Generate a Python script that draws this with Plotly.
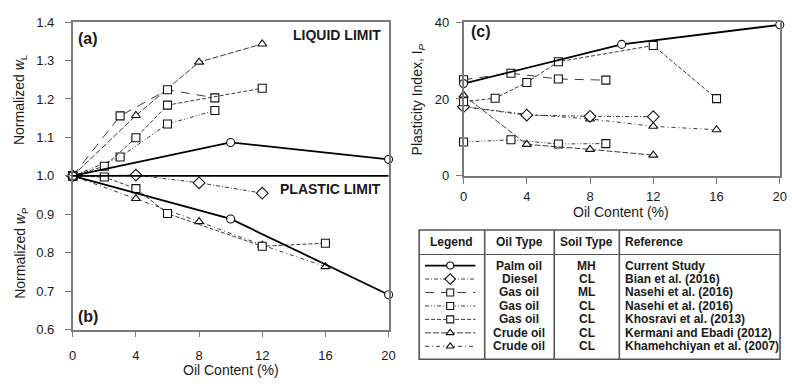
import plotly.graph_objects as go

W, H = 792, 387

# ---- data ---------------------------------------------------------------
# Palm oil (current study)
palm_oil_ll = [0, 10, 20]
palm_ll = [1.0, 1.087, 1.043]
palm_oil_pl = [0, 10, 20]
palm_pl = [1.0, 0.888, 0.691]
palm_oil_pi = [0, 10, 20]
palm_pi = [24.0, 34.2, 39.3]

# Diesel, Bian et al. (2016)
bian_oil_pl = [0, 4, 8, 12]
bian_pl = [1.0, 1.002, 0.982, 0.955]
bian_oil_pi = [0, 4, 8, 12]
bian_pi = [18.0, 15.8, 15.5, 15.4]

# Gas oil ML, Nasehi et al. (2016)
nasehi_ml_oil = [0, 3, 6, 9]
nasehi_ml_ll = [1.0, 1.156, 1.224, 1.203]
nasehi_ml_pi = [25.0, 26.7, 25.2, 24.9]

# Gas oil CL, Nasehi et al. (2016)
nasehi_cl_oil = [0, 3, 6, 9]
nasehi_cl_ll = [1.0, 1.049, 1.135, 1.170]
nasehi_cl_pi = [8.8, 9.4, 8.3, 8.4]

# Gas oil CL, Khosravi et al. (2013)
khosravi_oil_ll = [0, 2, 4, 6, 12]
khosravi_ll = [1.0, 1.025, 1.099, 1.184, 1.228]
khosravi_oil_pl = [0, 2, 4, 6, 12, 16]
khosravi_pl = [1.0, 0.997, 0.967, 0.902, 0.817, 0.825]
khosravi_oil_pi = [0, 2, 4, 6, 12, 16]
khosravi_pi = [19.3, 20.2, 24.3, 29.7, 33.9, 20.1]

# Crude oil CL, Kermani and Ebadi (2012)
kermani_oil = [0, 4, 8, 12]
kermani_ll = [1.0, 1.157, 1.296, 1.343]
kermani_pi = [21.0, 8.2, 6.9, 5.4]

# Crude oil CL, Khamehchiyan et al. (2007)
khamehchiyan_oil = [0, 4, 8, 12, 16]
khamehchiyan_pl = [1.0, 0.941, 0.881, 0.820, 0.764]
khamehchiyan_pi = [18.0, 16.0, 14.8, 12.9, 12.0]

x_ticks = [0, 4, 8, 12, 16, 20]
norm_ticks = [0.6, 0.7, 0.8, 0.9, 1.0, 1.1, 1.2, 1.3, 1.4]
pi_ticks = [0, 20, 40]

# table rows: oil type, soil type, reference
oil_types = ["Palm oil", "Diesel", "Gas oil", "Gas oil", "Gas oil", "Crude oil", "Crude oil"]
soil_types = ["MH", "CL", "ML", "CL", "CL", "CL", "CL"]
references = ["Current Study", "Bian et al. (2016)", "Nasehi et al. (2016)", "Nasehi et al. (2016)",
              "Khosravi et al. (2013)", "Kermani and Ebadi (2012)", "Khamehchiyan et al. (2007)"]

# ---- styles -------------------------------------------------------------
INK = "#1a1a1a"
GREY_LINE = "#3a3a3a"
FONT = "Arial, Liberation Sans, sans-serif"

styles = {
    "palm":  dict(dash="solid", symbol="circle", width=1.8, color="#000000"),
    "bian":  dict(dash="4px,2px,1px,2px", symbol="diamond", width=1.0, color=GREY_LINE),
    "nml":   dict(dash="9px,7px", symbol="square", width=1.0, color=GREY_LINE),
    "ncl":   dict(dash="4px,2px,1px,2px,1px,2px", symbol="square", width=1.0, color=GREY_LINE),
    "khos":  dict(dash="4px,2px", symbol="square", width=1.0, color=GREY_LINE),
    "kerm":  dict(dash="6px,2px", symbol="triangle-up", width=1.0, color=GREY_LINE),
    "kham":  dict(dash="4px,3px,1px,3px", symbol="triangle-up", width=1.0, color=GREY_LINE),
}
row_keys = ["palm", "bian", "nml", "ncl", "khos", "kerm", "kham"]


def px(x):
    return x / W


def py(y):
    return 1 - y / H


fig = go.Figure()


def add_series(x, y, key, xa, ya, msize=8):
    s = styles[key]
    size = msize + (1 if s["symbol"] == "diamond" else 0)
    fig.add_trace(go.Scatter(
        x=x, y=y, mode="lines+markers", xaxis=xa, yaxis=ya, showlegend=False,
        cliponaxis=False,
        line=dict(color=s["color"], width=s["width"], dash=s["dash"]),
        marker=dict(symbol=s["symbol"], size=size, color="white",
                    line=dict(color="#111111", width=1.1)),
    ))


# panel (a)/(b): normalized limits
add_series(kermani_oil, kermani_ll, "kerm", "x", "y")
add_series(nasehi_ml_oil, nasehi_ml_ll, "nml", "x", "y")
add_series(nasehi_cl_oil, nasehi_cl_ll, "ncl", "x", "y")
add_series(khosravi_oil_ll, khosravi_ll, "khos", "x", "y")
add_series(khamehchiyan_oil, khamehchiyan_pl, "kham", "x", "y")
add_series(khosravi_oil_pl, khosravi_pl, "khos", "x", "y")
add_series(bian_oil_pl, bian_pl, "bian", "x", "y")
add_series(palm_oil_ll, palm_ll, "palm", "x", "y")
add_series(palm_oil_pl, palm_pl, "palm", "x", "y")

# panel (c): plasticity index
add_series(nasehi_cl_oil, nasehi_cl_pi, "ncl", "x2", "y2")
add_series(kermani_oil, kermani_pi, "kerm", "x2", "y2")
add_series(khamehchiyan_oil, khamehchiyan_pi, "kham", "x2", "y2")
add_series(bian_oil_pi, bian_pi, "bian", "x2", "y2")
add_series(khosravi_oil_pi, khosravi_pi, "khos", "x2", "y2")
add_series(nasehi_ml_oil, nasehi_ml_pi, "nml", "x2", "y2")
add_series(palm_oil_pi, palm_pi, "palm", "x2", "y2")

# ---- legend table (own pixel-scaled axis over the table area) -----------
TA_X0, TA_X1, TA_Y0, TA_Y1 = 410, 792, 225, 387
T_LEFT, T_RIGHT, T_TOP, T_BOTTOM = 421, 787, 232, 366.5
HEADER_LINE = 257.5
COL_DIV = [487.5, 558, 624]
ROW0, ROW_STEP = 269, 14
SAMPLE_X0, SAMPLE_X1 = 427, 478

for i, key in enumerate(row_keys):
    s = styles[key]
    yr = ROW0 + i * ROW_STEP
    fig.add_trace(go.Scatter(
        x=[SAMPLE_X0, SAMPLE_X1], y=[yr, yr], mode="lines", xaxis="x3", yaxis="y3",
        showlegend=False, hoverinfo="skip",
        line=dict(color=s["color"], width=s["width"], dash=s["dash"]),
    ))
    fig.add_trace(go.Scatter(
        x=[(SAMPLE_X0 + SAMPLE_X1) / 2], y=[yr], mode="markers", xaxis="x3", yaxis="y3",
        showlegend=False, hoverinfo="skip", cliponaxis=False,
        marker=dict(symbol=s["symbol"], size=7 + (1 if s["symbol"] == "diamond" else 0),
                    color="white", line=dict(color="#111111", width=1.1)),
    ))

shapes = []
tbl_line = dict(color="#555555", width=1.6)
shapes.append(dict(type="rect", xref="x3", yref="y3", x0=T_LEFT, x1=T_RIGHT, y0=T_TOP, y1=T_BOTTOM,
                   line=tbl_line, layer="below"))
shapes.append(dict(type="line", xref="x3", yref="y3", x0=T_LEFT, x1=T_RIGHT, y0=HEADER_LINE,
                   y1=HEADER_LINE, line=dict(color="#555555", width=1.2)))
for cx in COL_DIV:
    shapes.append(dict(type="line", xref="x3", yref="y3", x0=cx, x1=cx, y0=T_TOP, y1=T_BOTTOM,
                       line=tbl_line))

# horizontal divider between liquid and plastic limit halves
shapes.append(dict(type="line", xref="x domain", yref="y", x0=0, x1=1, y0=1.0, y1=1.0,
                   line=dict(color="#000000", width=1.8)))

annotations = []
tfont = dict(family=FONT, size=12, color=INK)
headers = [("Legend", (T_LEFT + COL_DIV[0]) / 2, "center"),
           ("Oil Type", (COL_DIV[0] + COL_DIV[1]) / 2, "center"),
           ("Soil Type", (COL_DIV[1] + COL_DIV[2]) / 2, "center"),
           ("Reference", COL_DIV[2] + 4, "left")]
for text, hx, anc in headers:
    annotations.append(dict(text=f"<b>{text}</b>", x=hx, y=(T_TOP + HEADER_LINE) / 2, xref="x3",
                            yref="y3", xanchor=anc, yanchor="middle", showarrow=False, font=tfont))
for i in range(len(oil_types)):
    yr = ROW0 + i * ROW_STEP
    annotations.append(dict(text=f"<b>{oil_types[i]}</b>", x=(COL_DIV[0] + COL_DIV[1]) / 2, y=yr,
                            xref="x3", yref="y3", xanchor="center", yanchor="middle",
                            showarrow=False, font=tfont))
    annotations.append(dict(text=f"<b>{soil_types[i]}</b>", x=(COL_DIV[1] + COL_DIV[2]) / 2, y=yr,
                            xref="x3", yref="y3", xanchor="center", yanchor="middle",
                            showarrow=False, font=tfont))
    annotations.append(dict(text=f"<b>{references[i]}</b>", x=COL_DIV[2] + 4, y=yr,
                            xref="x3", yref="y3", xanchor="left", yanchor="middle",
                            showarrow=False, font=tfont))

# panel labels and region labels
bold14 = dict(family=FONT, size=14, color=INK)
annotations += [
    dict(text="<b>(a)</b>", x=px(73), y=py(33), xref="paper", yref="paper", xanchor="left",
         yanchor="middle", showarrow=False, font=dict(family=FONT, size=16, color=INK)),
    dict(text="<b>(b)</b>", x=px(73), y=py(322), xref="paper", yref="paper", xanchor="left",
         yanchor="middle", showarrow=False, font=dict(family=FONT, size=16, color=INK)),
    dict(text="<b>(c)</b>", x=px(472), y=py(26), xref="paper", yref="paper", xanchor="left",
         yanchor="middle", showarrow=False, font=dict(family=FONT, size=16, color=INK)),
    dict(text="<b>LIQUID LIMIT</b>", x=px(384), y=py(29), xref="paper", yref="paper",
         xanchor="right", yanchor="middle", showarrow=False, font=bold14),
    dict(text="<b>PLASTIC LIMIT</b>", x=px(384), y=py(189), xref="paper", yref="paper",
         xanchor="right", yanchor="middle", showarrow=False, font=bold14),
]

# axis titles
title_font = dict(family=FONT, size=14, color=INK)
annotations += [
    dict(text="Normalized <i>w</i><sub>L</sub>", x=px(17), y=py(96), xref="paper", yref="paper",
         textangle=-90, xanchor="center", yanchor="middle", showarrow=False, font=title_font),
    dict(text="Normalized <i>w</i><sub>P</sub>", x=px(17), y=py(256), xref="paper", yref="paper",
         textangle=-90, xanchor="center", yanchor="middle", showarrow=False, font=title_font),
    dict(text="Plasticity Index, I<sub><i>P</i></sub>", x=px(420), y=py(96), xref="paper",
         yref="paper", textangle=-90, xanchor="center", yanchor="middle", showarrow=False,
         font=title_font),
    dict(text="Oil Content (%)", x=px(230), y=0, xref="paper", yref="paper",
         xanchor="center", yanchor="bottom", borderpad=0, showarrow=False, font=title_font),
    dict(text="Oil Content (%)", x=px(626), y=py(213), xref="paper", yref="paper",
         xanchor="center", yanchor="middle", showarrow=False, font=title_font),
]

axis_common = dict(showgrid=False, zeroline=False, showline=True, mirror=True,
                   linecolor="#7a7a7a", linewidth=1.6, ticks="outside", ticklen=6,
                   tickwidth=1.2, tickcolor="#7a7a7a",
                   tickfont=dict(family=FONT, size=13, color=INK))

fig.update_layout(
    width=W, height=H, margin=dict(l=0, r=0, t=0, b=0),
    paper_bgcolor="white", plot_bgcolor="rgba(0,0,0,0)",
    xaxis=dict(axis_common, domain=[px(69.7), px(390)], range=[0, 20], tickvals=x_ticks,
               anchor="y", ticklabelstandoff=7),
    yaxis=dict(axis_common, domain=[py(335.7), py(15.7)], range=[0.6, 1.4], tickvals=norm_ticks,
               tickformat=".1f", anchor="x", ticklabelstandoff=8),
    xaxis2=dict(axis_common, domain=[px(466), px(786.7)], range=[0, 20], tickvals=x_ticks,
                anchor="y2", ticklabelstandoff=2),
    yaxis2=dict(axis_common, domain=[py(175.7), py(15.7)], range=[0, 40], tickvals=pi_ticks,
                anchor="x2", ticklabelstandoff=4),
    xaxis3=dict(domain=[px(TA_X0), px(TA_X1)], range=[TA_X0, TA_X1], visible=False,
                fixedrange=True, anchor="y3"),
    yaxis3=dict(domain=[py(TA_Y1), py(TA_Y0)], range=[TA_Y1, TA_Y0], visible=False,
                fixedrange=True, anchor="x3"),
    shapes=shapes,
    annotations=annotations,
    font=dict(family=FONT, color=INK),
)

fig.write_html("out.html")
